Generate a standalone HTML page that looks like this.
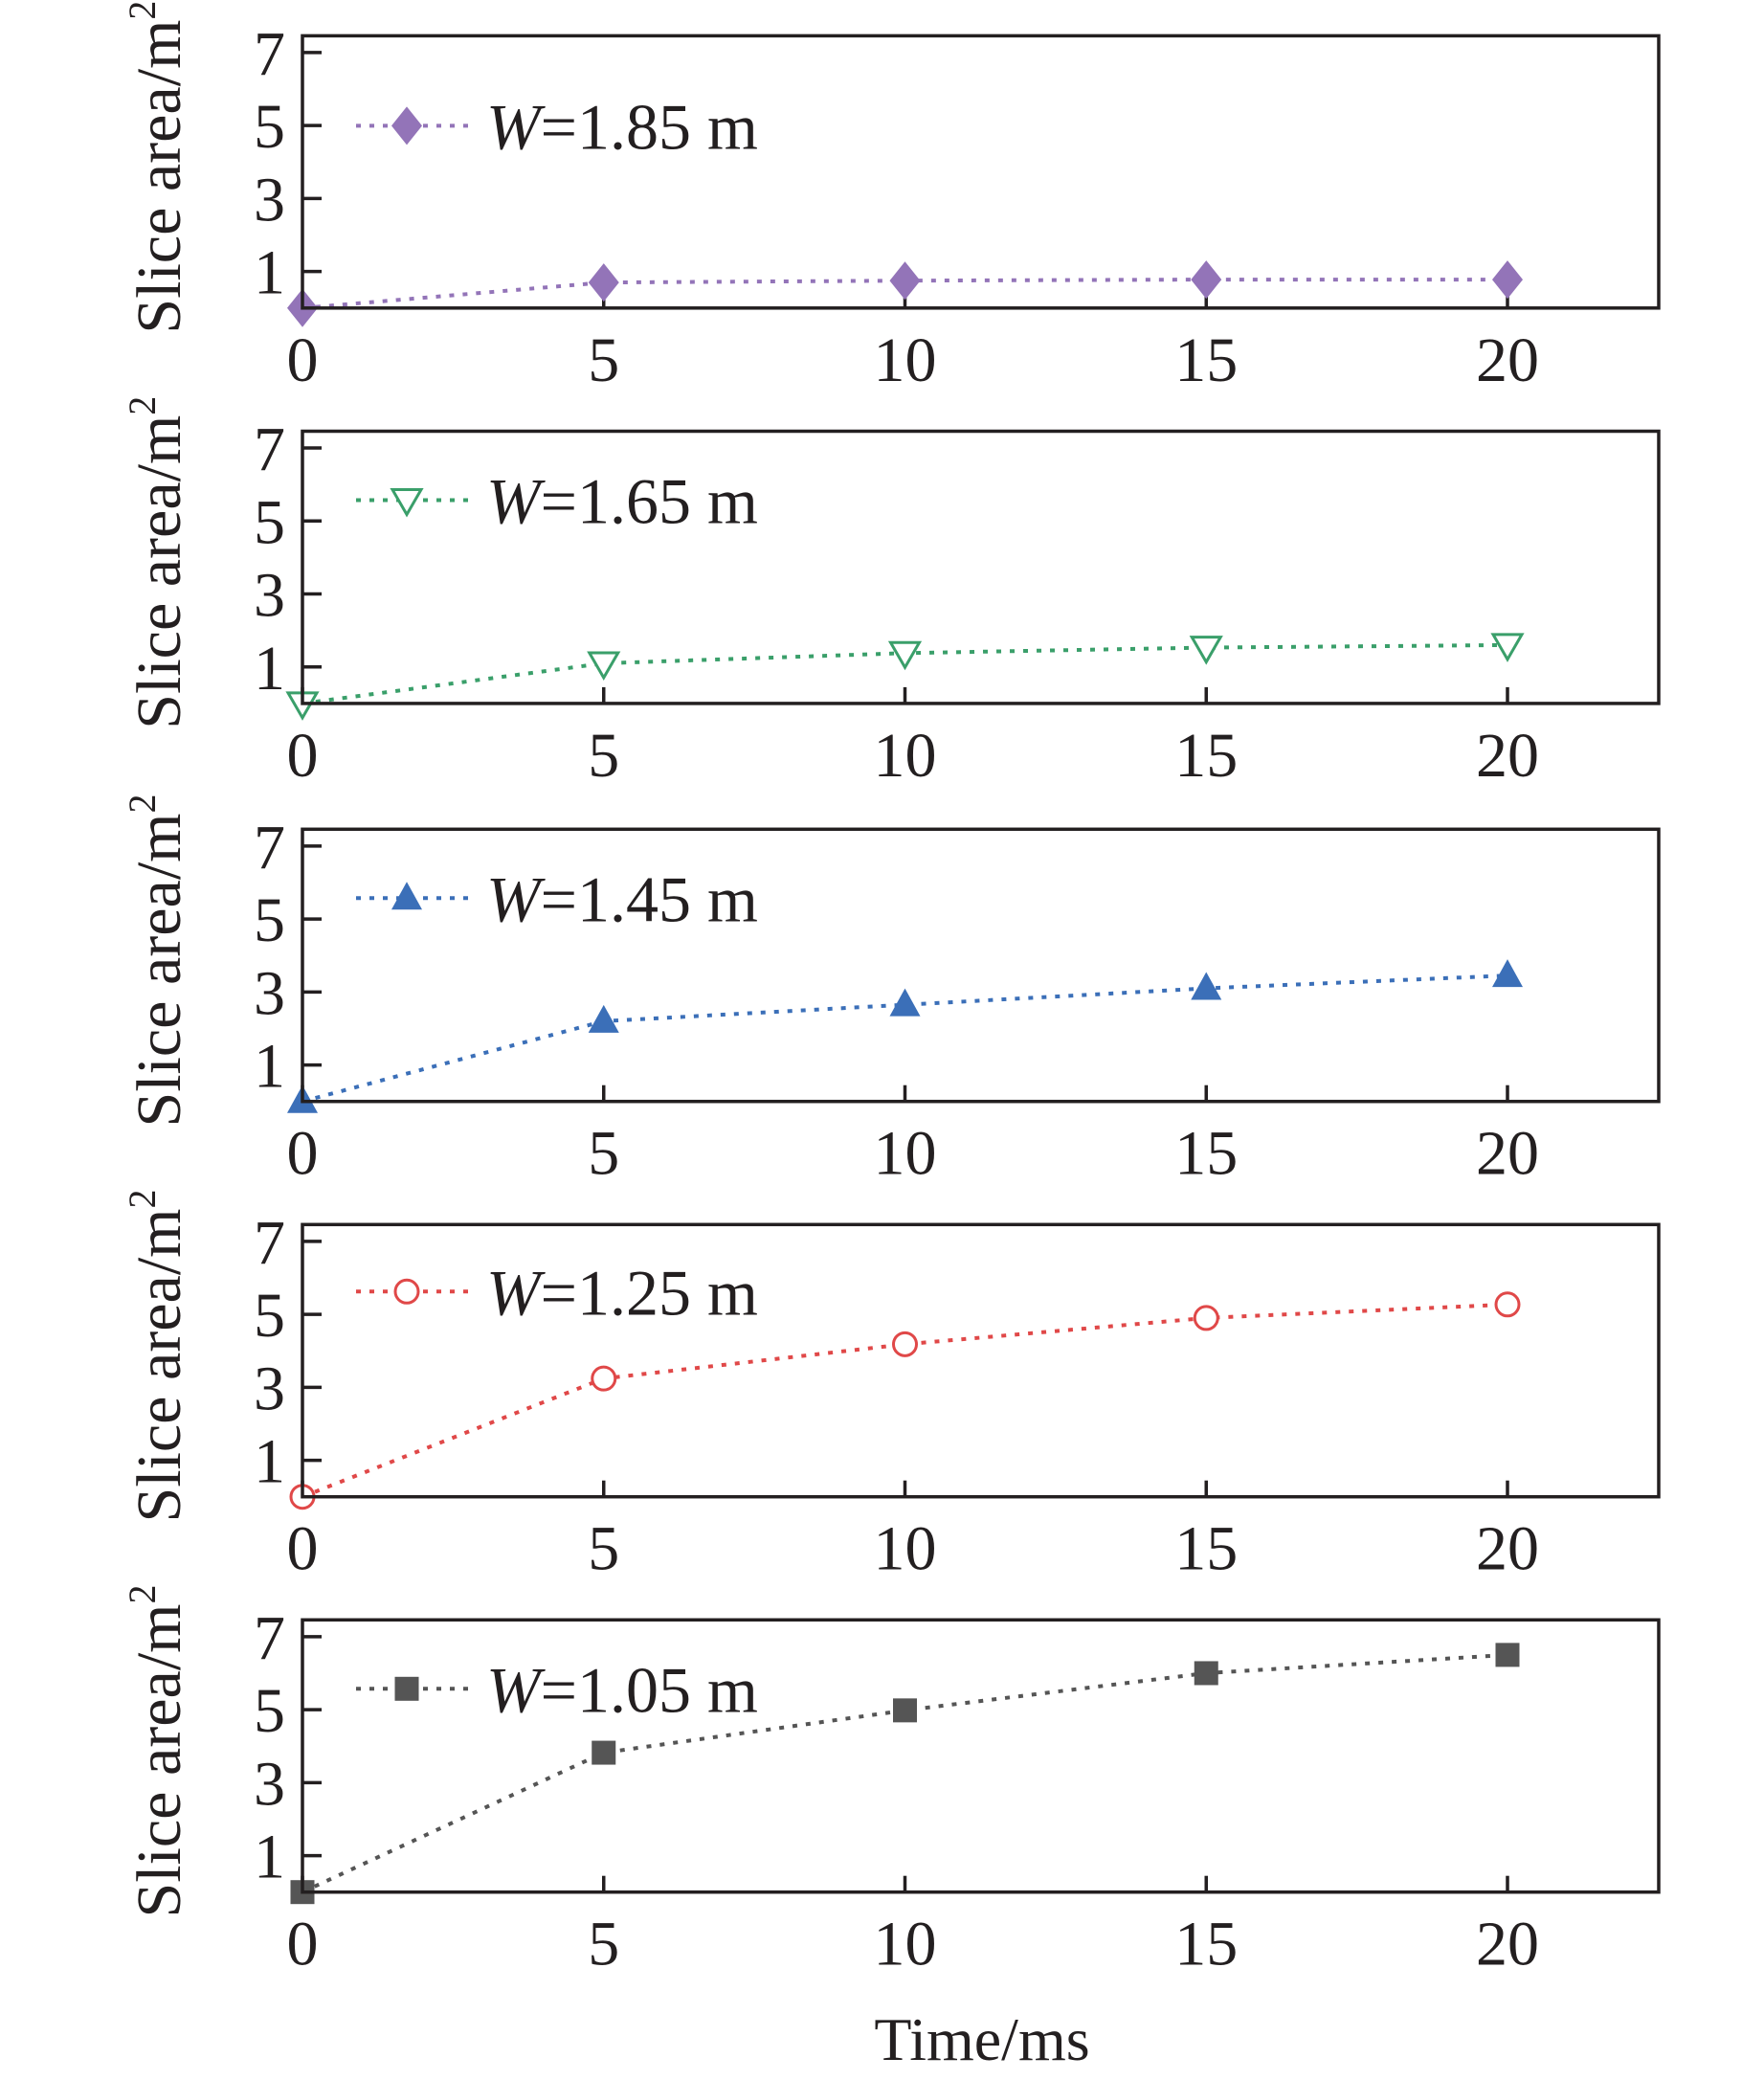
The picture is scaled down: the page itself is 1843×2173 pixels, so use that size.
<!DOCTYPE html>
<html><head><meta charset="utf-8"><style>
html,body{margin:0;padding:0;background:#fff}
svg{display:block}
text{font-family:"Liberation Serif","DejaVu Serif",serif;fill:#231f20}
</style></head><body>
<svg id="chart" width="1843" height="2173" viewBox="0 0 1843 2173" xmlns="http://www.w3.org/2000/svg">
<text x="1026" y="2152" font-size="64" text-anchor="middle">Time/ms</text>
</svg>
<script>
const times = [0, 5, 10, 15, 20];
const labels = ["1.85", "1.65", "1.45", "1.25", "1.05"];
const s185 = [0, 0.70, 0.75, 0.78, 0.78];
const s165 = [0, 1.10, 1.38, 1.53, 1.60];
const s145 = [0, 2.20, 2.65, 3.10, 3.45];
const s125 = [0, 3.24, 4.18, 4.90, 5.27];
const s105 = [0, 3.82, 4.98, 6.00, 6.50];
const xTicks = [0, 5, 10, 15, 20];
const yTicks = [1, 3, 5, 7];

const series = [s185, s165, s145, s125, s105];
const colors = ["#9374b8", "#3a9f6a", "#3b6fb8", "#e04848", "#555555"];
const markers = ["diamond", "tridown", "triup", "circle", "square"];
const tops = [37.4, 450.5, 866.3, 1279.3, 1692.3];
const legOff = [94, 72, 72, 70, 72];
const NS = "http://www.w3.org/2000/svg";
const svg = document.getElementById("chart");
const L = 316, R = 1733, H = 284.4, YMAX = 7.46;
const xs = v => L + (v / 20) * (1575 - L);

function mk(tag, attrs, parent) {
  const e = document.createElementNS(NS, tag);
  for (const k in attrs) e.setAttribute(k, attrs[k]);
  (parent || svg).appendChild(e);
  return e;
}
function marker(type, cx, cy, color, g) {
  let e;
  if (type === "diamond") e = mk("polygon", {points: `${cx},${cy-20} ${cx+16},${cy} ${cx},${cy+20} ${cx-16},${cy}`, fill: color}, g);
  else if (type === "tridown") e = mk("polygon", {points: `${cx-15},${cy-11} ${cx+15},${cy-11} ${cx},${cy+15}`, fill: "#fff", stroke: color, "stroke-width": 3}, g);
  else if (type === "triup") e = mk("polygon", {points: `${cx-16},${cy+12} ${cx+16},${cy+12} ${cx},${cy-17}`, fill: color}, g);
  else if (type === "circle") e = mk("circle", {cx: cx, cy: cy, r: 12, fill: "#fff", stroke: color, "stroke-width": 3}, g);
  else e = mk("rect", {x: cx-12.5, y: cy-12.5, width: 25, height: 25, fill: color}, g);
  return e;
}

series.forEach((data, i) => {
  const top = tops[i], bot = top + H;
  const ys = v => bot - (v / YMAX) * H;
  const g = mk("g", {});
  
  
  const t = mk("text", {x: 0, y: 0, "font-size": 66, "text-anchor": "middle", transform: `translate(188,${(top+bot)/2 - 5}) rotate(-90)`}, g);
  
  
  t.innerHTML = 'Slice area/m<tspan font-size="40" dy="-26">2</tspan>';
  yTicks.forEach(v => {
    const y = ys(v);
    const tk = mk("line", {x1: L, x2: L + 20, y1: y, y2: y, stroke: "#231f20", "stroke-width": 3.5}, g);
    
    
    const tl = mk("text", {x: 298, y: y + 23, "font-size": 66, "text-anchor": "end"}, g);
    
    
    tl.textContent = v;
  });
  xTicks.forEach(v => {
    const x = xs(v);
    const tk = mk("line", {x1: x, x2: x, y1: bot, y2: bot - 17, stroke: "#231f20", "stroke-width": 3.5}, g);
    
    
    const tl = mk("text", {x: x, y: bot + 76, "font-size": 66, "text-anchor": "middle"}, g);
    
    
    tl.textContent = v;
  });
  const pts = data.map((v, j) => `${xs(times[j])},${ys(v)}`).join(" ");
  const pl = mk("polyline", {points: pts, fill: "none", stroke: colors[i], "stroke-width": 4, "stroke-dasharray": "5 9"}, g);
  
  
  data.forEach((v, j) => {
    const m = marker(markers[i], xs(times[j]), ys(v), colors[i], g);
    
    
  });
  const fr = mk("rect", {x: L, y: top, width: R - L, height: H, fill: "none", stroke: "#231f20", "stroke-width": 3.5}, g);
  
  
  const ly = top + legOff[i];
  const ll = mk("line", {x1: 372, x2: 490, y1: ly, y2: ly, stroke: colors[i], "stroke-width": 4, "stroke-dasharray": "5 9"}, g);
  
  
  const lm = marker(markers[i], 425, ly, colors[i], g);
  
  
  const lt = mk("text", {x: 508, y: ly + 24, "font-size": 68}, g);
  
  
  lt.innerHTML = '<tspan font-style="italic">W</tspan>=' + labels[i] + ' m';
});
</script>
</body></html>
